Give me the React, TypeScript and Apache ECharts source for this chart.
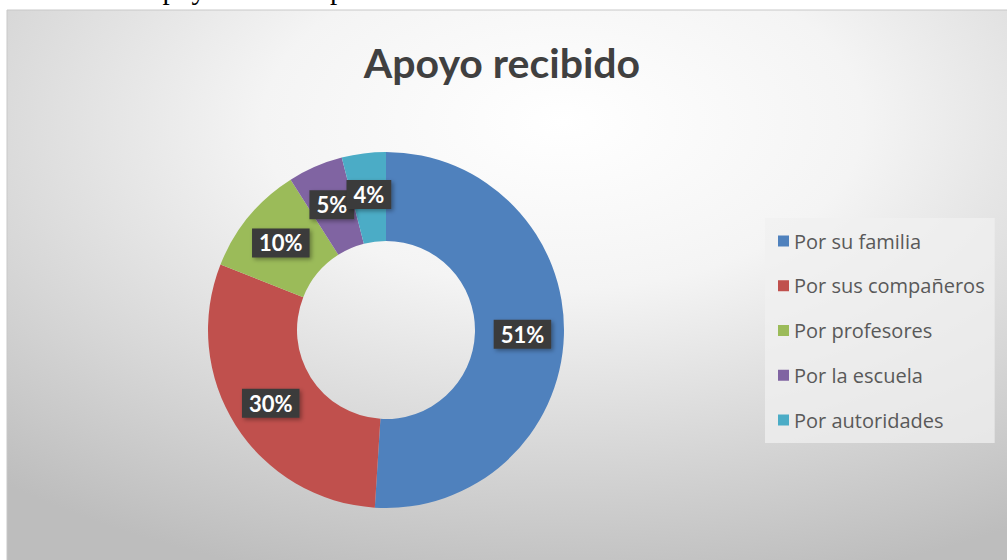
import React, { useEffect, useRef } from "react";
import * as echarts from "echarts";

const categories = ["Por su familia", "Por sus compañeros", "Por profesores", "Por la escuela", "Por autoridades"];
const values = [51, 30, 10, 5, 4];
const colors = ["#4F81BD", "#C0504D", "#9BBB59", "#8064A2", "#4BACC6"];
const titleText = "Apoyo recibido";
const captionText = "Gráfica 3. Apoyo recibido por";

export default function App() {
  const ref = useRef<HTMLDivElement>(null);
  useEffect(() => {
    if (!ref.current) return;
    const chart = echarts.init(ref.current, null, { renderer: "svg" });
    const font = "Lato, 'Open Sans', sans-serif";
    chart.setOption({
      animation: false,
      backgroundColor: "#ffffff",
      graphic: [
        {
          type: "rect",
          z: -10,
          shape: { x: 7, y: 10, width: 1010, height: 560 },
          style: {
            fill: {
              type: "radial",
              x: 0.55,
              y: 0.2,
              r: 0.85,
              colorStops: [
                { offset: 0, color: "#ffffff" },
                { offset: 0.35, color: "#f4f4f4" },
                { offset: 1, color: "#bdbdbd" },
              ],
            },
            stroke: "#c8c8c8",
            lineWidth: 1,
          },
        },
        {
          type: "text",
          x: 20,
          y: -11,
          style: {
            text: captionText,
            font: "29px 'Liberation Serif', 'Times New Roman', serif",
            fill: "#000000",
            verticalAlign: "middle",
          },
        },
      ],
      title: {
        text: titleText,
        left: 497,
        top: 37,
        textAlign: "center",
        textStyle: { fontFamily: font, fontWeight: "bold", fontSize: 41, color: "#404040" },
      },
      legend: {
        orient: "vertical",
        left: 765,
        top: 218,
        padding: [13, 10, 13, 13],
        backgroundColor: "rgba(240,240,240,0.75)",
        itemWidth: 11,
        itemHeight: 11,
        itemGap: 24.75,
        icon: "rect",
        textStyle: { fontFamily: "'Open Sans', sans-serif", fontSize: 20, color: "#595959", padding: [0, 0, 0, 0] },
        data: categories,
      },
      series: [
        {
          type: "pie",
          center: [386, 330],
          radius: [89, 178],
          startAngle: 90,
          clockwise: true,
          avoidLabelOverlap: false,
          labelLayout: { hideOverlap: false },
          label: {
            show: true,
            position: "inside",
            formatter: "{c}%",
            color: "#ffffff",
            fontFamily: font,
            fontWeight: "bold",
            fontSize: 22,
            backgroundColor: "#3a3a3a",
            padding: [4, 7, 3, 7],
            shadowColor: "rgba(0,0,0,0.35)",
            shadowBlur: 4,
            shadowOffsetX: 2,
            shadowOffsetY: 2,
          },
          labelLine: { show: false },
          itemStyle: { borderWidth: 0 },
          emphasis: { disabled: true },
          data: categories.map((name, i) => ({ name, value: values[i], itemStyle: { color: colors[i] } })),
        },
      ],
    });
    return () => chart.dispose();
  }, []);
  return <div ref={ref} style={{ position: "fixed", left: 0, top: 0, width: 1007, height: 560 }} />;
}
